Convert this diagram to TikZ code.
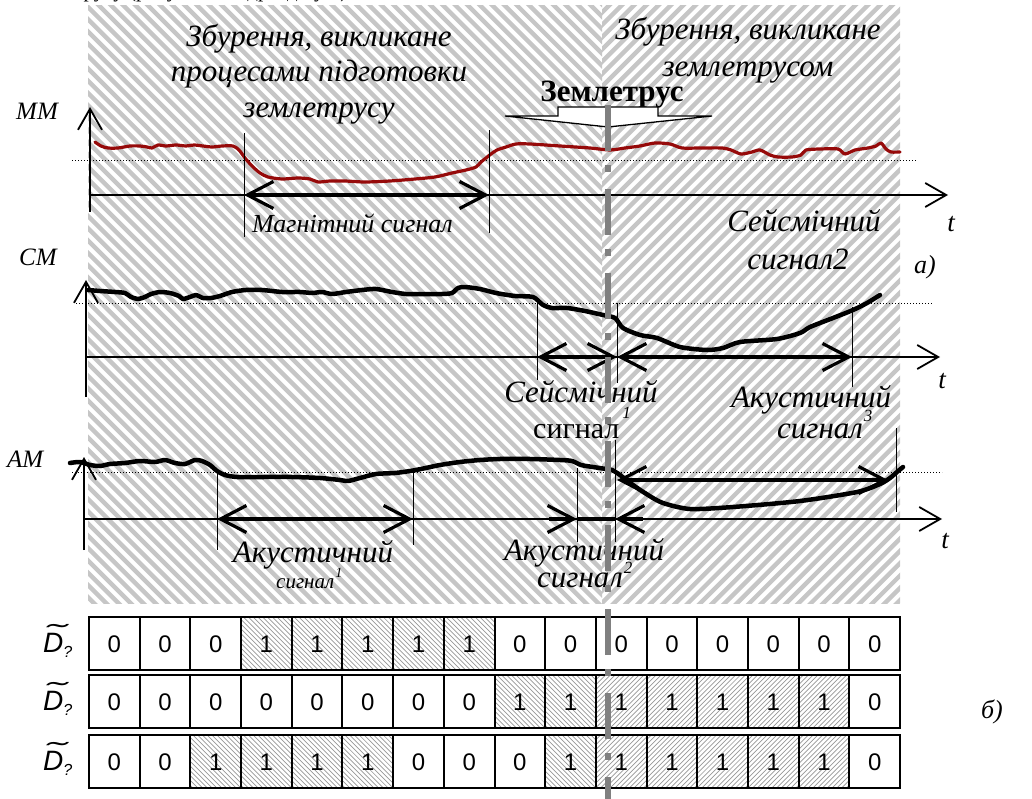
\documentclass[tikz,border=0pt]{standalone}
\usepackage{fontspec}
\usepackage{graphicx}
\setmainfont{Liberation Serif}
\newfontfamily\arialf{Liberation Sans}
\usetikzlibrary{arrows.meta}
\definecolor{mmred}{RGB}{150,10,10}
\definecolor{stripegray}{RGB}{198,198,198}
\definecolor{cellgray}{RGB}{150,150,150}
\definecolor{quakegray}{RGB}{128,128,128}
\newcommand{\supnum}[2][14pt]{\raisebox{#1}{\fontsize{17}{20}\selectfont\itshape #2}}
\begin{document}
\begin{tikzpicture}[x=1pt,y=-1pt,
  bgstripe/.style={line width=4.4pt, draw=stripegray},
  cellhatch/.style={line width=0.7pt, draw=cellgray},
  ax/.style={line width=1.8pt},
  axarr/.style={ax, -{Straight Barb[length=21pt,width=24pt,line width=1.8pt]}},
  markline/.style={line width=1pt},
  sigarr/.style={line width=3.6pt, {Straight Barb[length=26pt,width=27pt,line width=3.2pt]}-{Straight Barb[length=26pt,width=27pt,line width=3.2pt]}},
  onearr/.style={line width=3.6pt, -{Straight Barb[length=26pt,width=27pt,line width=3.2pt]}},
  dotline/.style={line width=0.9pt, dash pattern=on 1.2pt off 1.8pt},
  mmcurve/.style={draw=mmred, line width=3.2pt, line join=round, line cap=round},
  bcurve/.style={draw=black, line width=4.5pt, line join=round, line cap=round},
  quake/.style={line width=6pt, draw=quakegray, dash pattern=on 46pt off 14pt on 7pt off 17pt},
  lbl/.style={font=\fontsize{31}{35}\selectfont\itshape, inner sep=0pt, anchor=base},
  ttl/.style={font=\fontsize{31}{35}\selectfont\itshape, inner sep=0pt, anchor=base},
  axlbl/.style={font=\fontsize{25}{29}\selectfont\itshape, inner sep=0pt, anchor=base west},
  tlbl/.style={font=\fontsize{27}{30}\selectfont\itshape, inner sep=0pt, anchor=base},
  digit/.style={font=\arialf\fontsize{24}{27}\selectfont, inner sep=0pt},
  cellbox/.style={draw=black, line width=2pt},
  rowlbl/.style={anchor=base west, inner sep=0pt, font=\arialf\itshape\fontsize{28}{32}\selectfont},
]
\useasboundingbox (0,0) rectangle (1032,799);

% ---------- cut-off line of text at the very top ----------
\begin{scope}
  \clip (0,0) rectangle (1032,8);
  \node[anchor=base west, inner sep=0pt, font=\fontsize{21}{24}\selectfont] (toptext) at (74,-2) {трусу (рисунок 1 підрозділу 2)};
\end{scope}

% ---------- hatched background ----------
\begin{scope}
  \clip (88,6) rectangle (602,603);
  \foreach \i in {0,...,102} {\draw[bgstripe] ({-620+\i*12.3},0) -- ++(700,700);}
\end{scope}
\begin{scope}
  \clip (602,6) rectangle (900,603);
  \foreach \i in {0,...,85} {\draw[bgstripe] ({590+\i*12.3},0) -- ++(-700,700);}
\end{scope}

% ---------- titles ----------
\node[ttl] (t1a) at (319,47) {Збурення, викликане};
\node[ttl] (t1b) at (319,82) {процесами підготовки};
\node[ttl] (t1c) at (319,118) {землетрусу};
\node[ttl] (t2a) at (748,40) {Збурення, викликане};
\node[ttl] (t2b) at (748,77) {землетрусом};
\node[anchor=base, inner sep=0pt, font=\fontsize{31}{35}\selectfont\bfseries] (quake) at (612,102) {Землетрус};
\draw[fill=white, line width=1.3pt] (505,116) -- (558,116) -- (558,107) -- (658,107) -- (658,116) -- (712,116) -- (608,127) -- cycle;

% ================= MM panel =================
\node[axlbl] (mmlbl) at (16,120) {ММ};
\coordinate (mmY0) at (90,212); \coordinate (mmY1) at (90,107);
\coordinate (mmX0) at (90,195); \coordinate (mmX1) at (948,195);
\coordinate (mmD0) at (72,160); \coordinate (mmD1) at (917,160);
\draw[dotline] (mmD0) -- (mmD1);
\draw[axarr] (mmY0) -- (mmY1);
\draw[axarr] (mmX0) -- (mmX1);
\node[tlbl] (mmt) at (951,232) {t};
\draw[mmcurve] plot[smooth, tension=0.45] coordinates {(95,142) (101,146) (108,148) (118,148) (130,146) (140,146) (147,147) (152,148) (158,145) (166,146) (176,145) (186,146) (194,145) (203,146) (212,147) (222,146) (233,146) (239,150) (245,158) (252,166) (260,173) (268,177) (282,179) (298,178) (310,179) (318,182) (330,181) (345,181) (365,182) (390,181) (415,179) (435,177) (452,173) (466,170) (476,167) (481,162) (486,158) (491,154) (497,150) (506,147) (516,144) (530,144) (560,146) (590,148) (610,150) (625,148) (640,146) (655,143) (670,144) (682,148) (700,148) (722,148) (731,150) (741,154) (752,152) (760,150) (770,155) (778,157) (792,157) (801,155) (806,150) (820,149) (838,149) (845,154) (855,150) (868,148) (876,146) (881,143) (886,149) (891,152) (900,152)};
\coordinate (mmA) at (244,195); \coordinate (mmB) at (489,195);
\draw[markline] (244,133) -- (244,237);
\draw[markline] (489,130) -- (489,233);
\draw[sigarr] (mmA) -- (mmB);
\node[lbl, anchor=base west, font=\fontsize{26}{30}\selectfont\itshape] (mmsig) at (252,233) {Магнітний сигнал};

% ================= CM panel =================
\node[axlbl] (cmlbl) at (19,266) {СМ};
\coordinate (cmY0) at (86,397); \coordinate (cmY1) at (86,280);
\coordinate (cmX0) at (86,357); \coordinate (cmX1) at (940,357);
\coordinate (cmD0) at (76,303); \coordinate (cmD1) at (933,303);
\draw[dotline] (cmD0) -- (cmD1);
\draw[axarr] (cmY0) -- (cmY1);
\draw[axarr] (cmX0) -- (cmX1);
\node[tlbl] (cmt) at (942,388) {t};
\draw[bcurve] plot[smooth, tension=0.45] coordinates {(88,290) (100,291) (115,292) (125,293) (131,297) (138,299) (145,297) (151,294) (160,292) (170,293) (179,296) (183,299) (190,297) (196,295) (203,298) (211,298) (220,296) (232,292) (246,290) (262,290) (282,292) (300,292) (312,293) (322,292) (332,294) (346,292) (362,290) (376,289) (392,292) (406,294) (422,294) (442,294) (452,293) (458,288) (465,287) (480,289) (496,293) (515,296) (533,297) (543,305) (552,308) (567,308) (585,311) (603,315) (615,318) (623,328) (640,335) (657,338) (680,347) (707,350) (723,348) (740,342) (777,339) (800,333) (810,327) (833,318) (853,310) (867,303) (880,295)};
\coordinate (cmA) at (537,357); \coordinate (cmB) at (617,357); \coordinate (cmC) at (852,357);
\draw[markline] (537,303) -- (537,380);
\draw[markline] (617,303) -- (617,383);
\draw[markline] (852,307) -- (852,387);
\draw[sigarr] (cmA) -- (cmB);
\draw[sigarr] (cmB) -- (cmC);
\node[lbl] (cms1a) at (581,402) {Сейсмічний};
\node[lbl, anchor=base west, font=\fontsize{30}{34}\selectfont] (cms1b) at (533,438) {сигнал\kern3pt\supnum[20pt]{1}};
\node[lbl] (cms2a) at (804,232) {Сейсмічний};
\node[lbl] (cms2b) at (798,270) {сигнал2};
\node[lbl, font=\fontsize{26}{30}\selectfont\itshape] (pa) at (925,273) {а)};

% ================= AM panel =================
\node[axlbl] (amlbl) at (7,467) {АМ};
\coordinate (amY0) at (84,550); \coordinate (amY1) at (84,457);
\coordinate (amX0) at (84,519); \coordinate (amX1) at (942,519);
\coordinate (amD0) at (72,472); \coordinate (amD1) at (942,472);
\draw[dotline] (amD0) -- (amD1);
\draw[axarr] (amY0) -- (amY1);
\draw[axarr] (amX0) -- (amX1);
\node[tlbl] (amt) at (945,548) {t};
\draw[bcurve] plot[smooth, tension=0.45] coordinates {(70,463) (80,462) (90,465) (100,466) (110,464) (125,463) (140,461) (155,462) (165,460) (175,463) (185,464) (195,460) (202,461) (210,465) (217,471) (225,475) (237,477) (262,477) (292,477) (320,478) (340,480) (348,481) (360,478) (376,474) (395,473) (410,471) (421,469) (440,465) (460,462) (480,460) (500,459) (530,459) (560,460) (572,461) (581,465) (593,467) (606,469) (612,470) (620,475) (633,485) (648,495) (663,503) (690,509) (733,507) (800,501) (857,492) (880,484) (890,478) (897,472) (903,467)};
\coordinate (amA) at (217,519); \coordinate (amB) at (413,519);
\coordinate (amC) at (577,519); \coordinate (amD) at (615,519);
\coordinate (amCl) at (549,519); \coordinate (amDr) at (643,519);
\coordinate (amE) at (617,480); \coordinate (amF) at (888,480);
\draw[markline] (217,472) -- (217,550);
\draw[markline] (413,470) -- (413,545);
\draw[markline] (577,468) -- (577,542);
\draw[markline] (615,440) -- (615,542);
\draw[markline] (896,428) -- (896,512);
\draw[sigarr] (amA) -- (amB);
\draw[onearr] (amCl) -- (amC);
\draw[line width=3.6pt] (amC) -- (amD);
\draw[onearr] (amDr) -- (amD);
\draw[sigarr] (amE) -- (amF);
\node[lbl] (ams1a) at (313,562) {Акустичний};
\node[lbl, anchor=base west, font=\fontsize{21}{24}\selectfont\itshape] (ams1b) at (276,588) {сигнал\kern1pt\raisebox{11pt}{\fontsize{14}{16}\selectfont 1}};
\node[lbl] (ams2a) at (584,560) {Акустичний};
\node[lbl, anchor=base west] (ams2b) at (537,587) {сигнал\kern1pt\supnum{2}};
\node[lbl] (ams3a) at (811,407) {Акустичний};
\node[lbl, anchor=base west] (ams3b) at (777,438) {сигнал\kern1pt\supnum[17pt]{3}};

% ================= table =================
\foreach \r/\ya/\yb/\codes in {1/617/670/{0,0,0,1,1,1,1,1,0,0,0,0,0,0,0,0},
                                2/675/728/{0,0,0,0,0,0,0,0,1,1,2,2,2,2,2,0},
                                3/735/788/{0,0,1,1,1,1,0,0,0,1,2,2,2,2,2,0}} {
  \foreach \c [count=\i from 0] in \codes {
    \pgfmathsetmacro\xa{89+50.69*\i}
    \pgfmathsetmacro\xb{\xa+50.69}
    \ifcase\c
    \or
      \begin{scope}
        \clip (\xa,\ya) rectangle (\xb,\yb);
        \foreach \k in {0,...,24} {\draw[cellhatch] ({\xa-60+\k*4.8},\ya) -- ++(60,60);}
      \end{scope}
    \or
      \begin{scope}
        \clip (\xa,\ya) rectangle (\xb,\yb);
        \foreach \k in {0,...,24} {\draw[cellhatch] ({\xa+\k*4.8},\ya) -- ++(-60,60);}
      \end{scope}
    \fi
    \draw[cellbox] (\xa,\ya) rectangle (\xb,\yb);
    \node[digit] (cell-\r-\i) at ({(\xa+\xb)/2},{(\ya+\yb)/2+1}) {\ifnum\c=0 0\else 1\fi};
  }
}
% row labels: D with tilde and a small question mark
\foreach \r/\yb in {1/652, 2/710, 3/770} {
  \node[rowlbl] (D\r) at (43,\yb) {\ooalign{D\cr\hidewidth\kern3pt\raisebox{10pt}{\scalebox{2.2}[0.9]{\char"02DC}}\hidewidth\cr}\raisebox{-5pt}{\fontsize{16}{18}\selectfont ?}};
}
\node[lbl, font=\fontsize{26}{30}\selectfont\itshape] (pb) at (992,718) {б)};

% ---------- earthquake line ----------
\coordinate (eqtop) at (608,105);
\coordinate (eqbot) at (608,799);
\draw[quake] (eqtop) -- (eqbot);
\end{tikzpicture}
\end{document}
